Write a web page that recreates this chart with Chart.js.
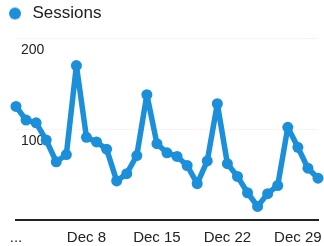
<!DOCTYPE html>
<html>
<head>
<meta charset="utf-8">
<script src="https://cdn.jsdelivr.net/npm/chart.js@4/dist/chart.umd.min.js"></script>
<style>
  html, body { margin: 0; padding: 0; background: #fff; }
  #myChart { display: block; }
</style>
</head>
<body>
<canvas id="myChart" width="324" height="246"></canvas>
<script>
// daily sessions, December
var dias = ['Dec 1','Dec 2','Dec 3','Dec 4','Dec 5','Dec 6','Dec 7','Dec 8','Dec 9','Dec 10',
            'Dec 11','Dec 12','Dec 13','Dec 14','Dec 15','Dec 16','Dec 17','Dec 18','Dec 19','Dec 20',
            'Dec 21','Dec 22','Dec 23','Dec 24','Dec 25','Dec 26','Dec 27','Dec 28','Dec 29','Dec 30','Dec 31'];
var sesiones = [125,110,107,88,64,72,170,91,86,78,43,51,71,138,84,74,70,60,40,65,128,62,48,30,15,29,38,102,80,57,46];
var etiquetasX = ['...','Dec 8','Dec 15','Dec 22','Dec 29'];
var etiquetasY = [100, 200];
var serie = 'Sessions';

var azul = '#1b8fd9';
var texto = '#222';

// legend marker: circle drawn on a small canvas so the text sits a bit further right
function getMarcador() {
  var c = document.createElement('canvas');
  c.width = 20; c.height = 14;
  var g = c.getContext('2d');
  g.fillStyle = azul;
  g.beginPath();
  g.arc(11, 7, 6, 0, Math.PI * 2);
  g.fill();
  return c;
}
var marcador = getMarcador();

var ctx = document.getElementById('myChart').getContext('2d');
var grafico = new Chart(ctx, {
  type: 'line',
  data: {
    labels: dias,
    datasets: [{
      label: serie,
      data: sesiones,
      borderColor: azul,
      backgroundColor: azul,
      pointBackgroundColor: azul,
      pointBorderColor: azul,
      borderWidth: 5.5,
      borderJoinStyle: 'round',
      borderCapStyle: 'round',
      pointRadius: 5.5,
      pointBorderWidth: 0,
      tension: 0,
      clip: false
    }]
  },
  options: {
    responsive: false,
    animation: false,
    layout: { autoPadding: false, padding: { left: 0, right: 6, top: 1, bottom: 0 } },
    plugins: {
      tooltip: { enabled: false },
      legend: {
        display: true,
        align: 'start',
        labels: {
          usePointStyle: true,
          pointStyleWidth: 20,
          padding: 4,
          color: texto,
          font: { family: 'Liberation Sans', size: 17 },
          generateLabels: function (chart) {
            return [{
              text: serie,
              pointStyle: marcador,
              fillStyle: azul,
              strokeStyle: azul,
              lineWidth: 0,
              fontColor: texto,
              datasetIndex: 0
            }];
          }
        }
      }
    },
    scales: {
      x: {
        afterFit: function (scale) {
          scale.height = 26;
          scale.paddingLeft = 0;
          scale.paddingRight = 0;
        },
        grid: { display: false, drawTicks: false },
        border: { display: true, color: '#222', width: 2 },
        ticks: {
          autoSkip: false,
          maxRotation: 0,
          padding: 9,
          color: texto,
          font: { family: 'Liberation Sans', size: 15 },
          callback: function (val, i) {
            if (i % 7 === 0) return etiquetasX[i / 7];
            return null;
          }
        }
      },
      y: {
        min: 0,
        max: 207,
        afterFit: function (scale) { scale.width = 16; },
        afterBuildTicks: function (scale) {
          scale.ticks = etiquetasY.map(function (v) { return { value: v }; });
        },
        grid: { color: 'rgba(200,150,150,0.12)', drawTicks: false },
        border: { display: false },
        ticks: {
          mirror: true,
          padding: 5,
          labelOffset: 12,
          color: texto,
          font: { family: 'Liberation Sans', size: 14 }
        }
      }
    }
  }
});
</script>
</body>
</html>
